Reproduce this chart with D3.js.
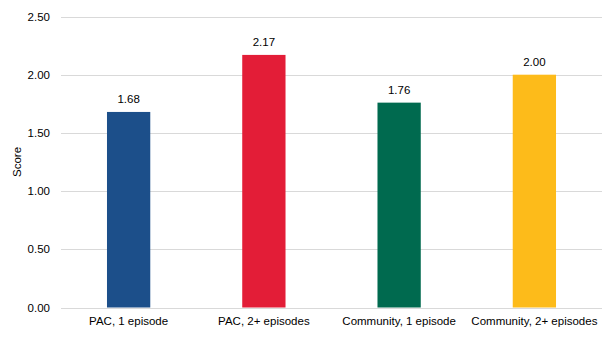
<!DOCTYPE html>
<html>
<head>
<meta charset="utf-8">
<script src="https://cdn.jsdelivr.net/npm/d3@7/dist/d3.min.js"></script>
<style>
  html, body { margin: 0; padding: 0; background: #fff; }
  svg { display: block; font-family: "Liberation Sans", Arial, sans-serif; }
</style>
</head>
<body>
<svg id="chart" width="612" height="341"></svg>
<script>
// Scores by group
const categories = ["PAC, 1 episode", "PAC, 2+ episodes", "Community, 1 episode", "Community, 2+ episodes"];
const scores = [1.68, 2.17, 1.76, 2.00];
const barColors = ["#1c4f8a", "#e31d37", "#006a4f", "#fdbb1a"];
const yTicks = [0, 0.5, 1.0, 1.5, 2.0, 2.5];

const svg = d3.select("#chart");
const plot = { left: 61, right: 602, top: 16.5, bottom: 307.5 };
const fontSize = 11.5;

const x = d3.scaleBand().domain(categories).range([plot.left, plot.right]).paddingInner(0.68).paddingOuter(0.34);
const y = d3.scaleLinear().domain([0, 2.5]).range([plot.bottom, plot.top]);

// Horizontal gridlines
svg.append("g")
  .selectAll("line")
  .data(yTicks)
  .join("line")
  .attr("x1", plot.left).attr("x2", plot.right)
  .attr("y1", d => Math.round(y(d)) + 0.5).attr("y2", d => Math.round(y(d)) + 0.5)
  .attr("stroke", "#d9d9d9").attr("stroke-width", 1);

// Y axis labels
const yAxis = d3.axisLeft(y).tickValues(yTicks).tickFormat(d3.format(".2f")).tickSize(0).tickPadding(11);
const gy = svg.append("g").attr("transform", `translate(${plot.left},0)`).call(yAxis);
gy.select(".domain").remove();
gy.selectAll("text").attr("font-size", fontSize).attr("fill", "#000").attr("font-family", "Liberation Sans, Arial, sans-serif");

// X axis labels
const xAxis = d3.axisBottom(x).tickSize(0).tickPadding(9);
const gx = svg.append("g").attr("transform", `translate(0,${plot.bottom})`).call(xAxis);
gx.select(".domain").remove();
gx.selectAll("text").attr("font-size", fontSize).attr("fill", "#000").attr("font-family", "Liberation Sans, Arial, sans-serif");

// Bars
svg.append("g")
  .selectAll("rect")
  .data(categories)
  .join("rect")
  .attr("x", d => x(d))
  .attr("width", x.bandwidth())
  .attr("y", (d, i) => y(scores[i]))
  .attr("height", (d, i) => plot.bottom - y(scores[i]))
  .attr("fill", (d, i) => barColors[i]);

// Value labels
svg.append("g")
  .selectAll("text")
  .data(categories)
  .join("text")
  .attr("x", d => x(d) + x.bandwidth() / 2)
  .attr("y", (d, i) => y(scores[i]) - 8.5)
  .attr("text-anchor", "middle")
  .attr("font-size", fontSize)
  .attr("fill", "#000")
  .text((d, i) => scores[i].toFixed(2));

// Y axis title
svg.append("text")
  .attr("transform", `translate(21,${(plot.top + plot.bottom) / 2}) rotate(-90)`)
  .attr("text-anchor", "middle")
  .attr("font-size", fontSize)
  .attr("fill", "#000")
  .text("Score");
</script>
</body>
</html>
